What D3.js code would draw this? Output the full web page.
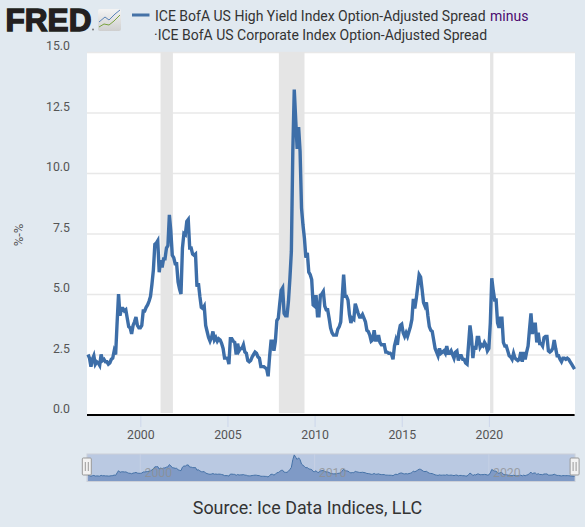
<!DOCTYPE html>
<html><head><meta charset="utf-8">
<script src="https://cdn.jsdelivr.net/npm/d3@7/dist/d3.min.js"></script>
<style>html,body{margin:0;padding:0;background:#e1e9f0;overflow:hidden}svg{display:block}</style>
</head><body><svg id="c" width="585" height="527"></svg>
<script>
const startYear = 1997;
const spread1997_2002 = [
 2.5,2.35,2.0,2.3,2.45,2.1,2.2,2.15,2.05,2.5,2.25,2.3,
 2.2,2.2,2.1,2.15,2.3,2.35,2.65,2.5,3.8,5.0,4.1,4.4,
 4.4,4.3,4.35,4.0,3.65,3.6,3.35,3.7,3.85,4.05,3.7,3.6,
 3.6,3.7,4.3,4.3,4.45,4.55,4.7,4.9,5.4,6.0,7.05,7.1,
 7.2,5.9,6.4,6.1,6.45,6.45,6.9,7.0,8.27,7.6,6.6,6.5,
 6.25,6.25,5.5,5.2,5.0,6.9,7.5,7.45,8.0,8.08,6.9,6.9];
const spread2003_2008 = [
 6.65,6.6,6.65,5.3,5.45,4.9,4.45,4.4,4.5,3.7,3.45,3.2,
 3.05,3.2,3.45,3.1,3.2,3.05,3.15,3.1,2.95,2.75,2.35,2.35,
 2.35,2.1,3.15,3.15,3.05,3.0,2.5,2.95,2.65,2.75,2.75,2.9,
 2.6,2.55,2.25,2.2,2.25,2.4,2.5,2.6,2.55,2.4,2.35,2.0,
 2.0,2.0,1.95,1.9,1.6,2.4,3.05,3.05,2.65,3.05,3.9,4.0,
 4.6,5.15,5.25,4.2,4.1,4.1,4.7,5.65,6.75,10.9,13.45,12.2];
const spread2009_2014 = [
 11.0,11.9,10.9,8.55,7.85,7.3,6.5,6.7,5.9,5.8,5.6,4.55,
 4.5,4.95,4.1,4.1,4.95,5.0,5.1,4.5,4.35,4.35,4.0,3.6,
 3.4,3.3,3.3,3.3,3.55,3.65,3.85,4.85,5.8,4.9,4.9,4.75,
 4.15,3.8,4.0,3.95,4.6,4.4,4.2,4.05,4.05,4.15,4.0,3.85,
 3.5,3.45,3.3,3.05,3.1,3.5,3.1,3.1,3.3,3.0,2.9,2.9,
 2.9,2.6,2.6,2.55,2.55,2.5,2.3,2.85,3.1,2.9,3.4,3.7];
const spread2015_2019 = [
 3.75,3.4,3.25,3.4,3.25,3.45,3.65,3.95,4.8,4.4,4.8,5.3,
 5.8,5.7,5.2,4.65,4.5,4.65,4.1,3.65,3.5,3.45,3.1,2.75,
 2.6,2.45,2.75,2.55,2.6,2.65,2.55,2.85,2.55,2.55,2.65,2.5,
 2.35,2.6,2.65,2.25,2.45,2.45,2.3,2.3,2.15,2.1,2.9,3.7,
 3.25,2.35,2.85,2.7,3.2,3.2,2.8,2.9,2.85,3.0,2.9,2.65];
const spread2020_2024 = [
 2.75,3.8,5.65,5.15,4.75,4.75,3.8,3.6,4.0,4.0,3.0,2.85,
 2.85,2.65,2.45,2.4,2.3,2.55,2.35,2.3,2.25,2.3,2.6,2.2,
 2.6,2.3,2.6,2.85,3.55,4.2,3.35,3.75,3.75,3.0,3.4,2.95,
 2.95,2.85,3.2,3.25,3.25,2.65,2.6,2.65,2.75,3.1,2.75,2.45,
 2.45,2.3,2.2,2.35,2.35,2.3,2.35,2.3,2.2,2.1,2.0,1.9];
const spreadValues = [...spread1997_2002,...spread2003_2008,...spread2009_2014,...spread2015_2019,...spread2020_2024];
const recessions = [[2001.16,2001.87],[2007.95,2009.42],[2020.07,2020.26]];
const yTicks = [0,2.5,5,7.5,10,12.5,15];
const xTicks = [2000,2005,2010,2015,2020];
const navTicks = [2000,2010,2020];
const titleLine1 = "ICE BofA US High Yield Index Option-Adjusted Spread";
const titleMinus = "minus";
const titleLine2 = "\u00b7ICE BofA US Corporate Index Option-Adjusted Spread";
const yTitle = "%-%";
const sourceText = "Source: Ice Data Indices, LLC";

const points = spreadValues.map((v,i)=>({t:startYear+i/12,v}));
const svg = d3.select("#c");
const FONT = "Roboto, 'Open Sans', sans-serif";
const x = d3.scaleLinear().domain([1996.94,2024.92]).range([87,574.6]);
const y = d3.scaleLinear().domain([0,15]).range([415,52]);
const yNav = d3.scaleLinear().domain([0,13.4]).range([480,455]);

svg.append("rect").attr("width",585).attr("height",527).attr("fill","#e1e9f0");
svg.append("rect").attr("x",87).attr("y",52).attr("width",488).attr("height",363).attr("fill","#fff");

// grid
const gy = svg.append("g").attr("transform","translate(87,0)")
  .call(d3.axisLeft(y).tickValues(yTicks).tickSize(-488).tickPadding(0).tickFormat(d3.format(".1f")));
gy.select(".domain").remove();
gy.selectAll(".tick line").attr("stroke","#e8e8e8").attr("stroke-width",1.5);
gy.selectAll(".tick text").attr("x",-17).attr("dy","-2.2px").attr("fill","#555")
  .style("font","12.3px "+FONT).attr("text-anchor","end");

// recessions
svg.selectAll("rect.rec").data(recessions).join("rect").attr("class","rec")
  .attr("x",d=>x(d[0])).attr("width",d=>x(d[1])-x(d[0]))
  .attr("y",52).attr("height",361).attr("fill","#e5e5e5");

// x axis
const gx = svg.append("g").attr("transform","translate(0,415)")
  .call(d3.axisBottom(x).tickValues(xTicks).tickSize(12).tickPadding(3).tickFormat(d3.format("d")));
gx.select(".domain").remove();
gx.selectAll(".tick line").attr("stroke","#ccd6eb");
gx.selectAll(".tick text").attr("fill","#555").style("font","12.3px "+FONT);
svg.append("line").attr("x1",87).attr("x2",574.6).attr("y1",415).attr("y2",415).attr("stroke","#000").attr("stroke-width",2);

// main line
svg.append("path").datum(points)
  .attr("d",d3.line().x(d=>x(d.t)).y(d=>y(d.v)))
  .attr("fill","none").attr("stroke","#3d6ea8").attr("stroke-width",3.4).attr("stroke-linejoin","miter");

// y title
svg.append("text").attr("transform","translate(23,235) rotate(-90)").attr("text-anchor","middle")
  .attr("fill","#555").style("font","13px "+FONT).text(yTitle);

// navigator
svg.append("rect").attr("x",87).attr("y",454).attr("width",488).attr("height",27.5).attr("fill","#bac9e2")
  .attr("stroke","#ccd0d8").attr("stroke-width",1);
svg.selectAll("line.nt").data(navTicks).join("line").attr("class","nt")
  .attr("x1",d=>x(d)).attr("x2",d=>x(d)).attr("y1",454).attr("y2",481).attr("stroke","#c6d0e4");
svg.append("path").datum(points)
  .attr("d",d3.area().x(d=>x(d.t)).y0(481).y1(d=>yNav(d.v)))
  .attr("fill","#7f9ac6").attr("stroke","none");
svg.append("path").datum(points)
  .attr("d",d3.line().x(d=>x(d.t)).y(d=>yNav(d.v)))
  .attr("fill","none").attr("stroke","#4572a7").attr("stroke-width",1);
svg.selectAll("text.nl").data(navTicks).join("text").attr("class","nl")
  .attr("x",d=>x(d)+18).attr("y",477).attr("text-anchor","middle")
  .attr("fill","#8e8e8e").attr("fill-opacity",.75).style("font","12.3px "+FONT).text(d=>d);
[x.range()[0]-0.2,x.range()[1]].forEach(cx=>{
  const h = svg.append("g").attr("transform",`translate(${cx},0)`);
  h.append("rect").attr("x",-4.5).attr("y",458).attr("width",9).attr("height",17).attr("rx",1)
    .attr("fill","#f2f2f2").attr("stroke","#999");
  h.append("path").attr("d","M-1.5,462V471M1.5,462V471").attr("stroke","#999").attr("fill","none");
});

// source
svg.append("text").attr("x",307.5).attr("y",514).attr("text-anchor","middle")
  .attr("fill","#333").style("font","17.9px "+FONT).text(sourceText);

// legend + title
svg.append("line").attr("x1",132).attr("x2",149.5).attr("y1",15).attr("y2",15).attr("stroke","#4572a7").attr("stroke-width",3);
svg.append("text").attr("x",155).attr("y",20.5).attr("fill","#333").style("font","14px "+FONT).text(titleLine1);
svg.append("text").attr("x",490).attr("y",20.5).attr("fill","#4b0a6e").style("font","14px "+FONT).text(titleMinus);
svg.append("text").attr("x",154).attr("y",39.5).attr("fill","#333").style("font","14px "+FONT).text(titleLine2);

// FRED logo
svg.append("text").attr("x",5.5).attr("y",30.5).attr("fill","#231f20")
  .attr("textLength",86).attr("lengthAdjust","spacingAndGlyphs")
  .attr("stroke","#231f20").attr("stroke-width",1.4)
  .style("font","bold 32px 'Liberation Sans', sans-serif").text("FRED");
svg.append("circle").attr("cx",93).attr("cy",29.5).attr("r",1).attr("fill","#777");
const logoGrad = svg.append("defs").append("linearGradient").attr("id","lg").attr("x1",0).attr("x2",0).attr("y1",0).attr("y2",1);
logoGrad.append("stop").attr("offset",0).attr("stop-color","#f4f4f4");
logoGrad.append("stop").attr("offset",1).attr("stop-color","#cfcfcf");
svg.append("rect").attr("x",98).attr("y",9).attr("width",23).attr("height",22).attr("rx",2).attr("fill","url(#lg)");
svg.append("path").attr("d","M99,22L105,17L109,20L115,14L120,10").attr("fill","none").attr("stroke","#5b84b8").attr("stroke-width",1);
svg.append("path").attr("d","M99,27L104,24L109,25L114,21L120,15").attr("fill","none").attr("stroke","#7aa23f").attr("stroke-width",1);
</script></body></html>
